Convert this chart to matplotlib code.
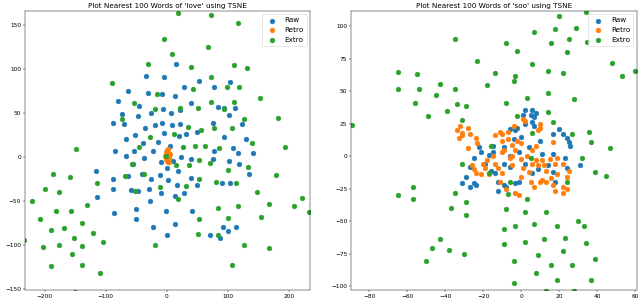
import matplotlib
matplotlib.use("Agg")
import matplotlib.pyplot as plt

# ---- 'love' panel ----
love_raw_x = [15, -34, -5, 52, 103, 77, -63, 28, -30, -8, 13, -80, 39, -45, -6, 21, 84, 93, 112,
              -26, 7, -74, 102, -47, -88, -70, -7, 76, 8, 22, 123, -20, -35, 50, -4, 31, 20, -52,
              93, -67, 129, -15, -39, 6, 108, -85, -22, -53, 77,
              -66, -38, 23, 40, 117, 141, 75, 102, 119, -10, 10, -55, -115, 1, 19, 134, -64, -41,
              -11, 39, -88, -25, 2, 17, 50, 90, 103, -88, -59, -47, -29, -9, 13, 28, -114, -27,
              -1, -50, 41, -87, -51, 14, -22, 92, 114, 100, 70, 1, 87]
love_raw_y = [106, 92, 91, 86, 85, 80, 75, 79, 73, 71, 69, 64, 61, 58, 55, 53, 57, 56, 56,
              50, 50, 49, 48, 47, 39, 37, 39, 39, 36, 37, 38, 36, 33, 28, 27, 26, 24, 25,
              23, 20, 21, 17, 16, 13, 10, 7, 7, 7, 7,
              1, -1, 0, -2, 5, 5, -2, -5, -8, -6, -4, -8, -16, -12, -16, -19, -22, -19,
              -20, -24, -25, -25, -26, -32, -32, -29, -30, -36, -38, -39, -36, -41, -44, -41, -45, -50,
              -61, -59, -61, -64, -71, -76, -79, -79, -80, -84, -89, -89, -92]

love_retro_x = [0, 1, 2, -1, 3, 1, 0, 2, -2, 4, 1, 3, -1, 2, 0, 5, -3, 1, 3, 0, 2, -1, 4, 1]
love_retro_y = [8, 6, 4, 3, 2, 1, 0, -1, 0, 0, -3, -4, -2, -6, 5, 3, 1, 7, -6, -4, 9, 6, -1, 2]

love_extro_x = [19, 72, 117, -4, 67, 9, -31, 110, 39, 131, -90, 72, 118, 98, 43, -16, 152, -53,
                110, 72, -19, 21, 51, 94, 182, -73, 126, 35, 77, 56, 107, -27, 12, 139, -149, -45,
                27, 46, 63, 85, 193,
                -57, -2, 15, 36, 52, 71, 133, -186, -158, -69, -37, -114, 100, 178, 114, 80, 52, 32,
                -11, -199, -177, -52, 148, -221, 18, -131, 167, 209, 221, 233, 117, 84, -182, -156,
                -208, 53, 154, 100, -139, -168, -189, -121, -152, 51, 84, -104, -233, -202, -176,
                -138, -19, 126, 168, -155, -189, -138, 107, -109, -150]
love_extro_y = [164, 161, 152, 134, 125, 117, 106, 105, 102, 101, 84, 91, 80, 79, 77, 71, 67, 61,
                62, 62, 55, 56, 56, 55, 44, 43, 43, 34, 33, 31, 33, 23, 26, 16, 9, 11,
                11, 13, 12, 10, 11,
                -8, 1, -9, -9, -3, -7, -11, -19, -23, -22, -19, -30, -15, -20, -30, -28, -25, -33,
                -34, -36, -40, -39, -40, -50, -48, -55, -53, -56, -47, -62, -56, -58, -61, -61,
                -70, -71, -68, -69, -75, -81, -83, -86, -92, -88, -89, -97, -94, -102, -100,
                -101, -100, -100, -103, -110, -124, -123, -123, -132, -153]

# ---- 'soo' panel ----
soo_raw_x = [2, 6, 8, 5, 1, 7, 6, 2, 7, -6, -2, -3, 20, 17, 22, 24, 25, 26, 10, 0, -4, 4, -22,
             -15, -9,
             -31, -29, -27, -25, -25, -24, -27, -21, -19, -17, -16, -14, -12, -9, -12, -8, -3, -9,
             -6, -6, -1, 2, 6, 9, 14, 17, 18, 24, 31, -1, 11, 17, 23, -15]
soo_raw_y = [36, 36, 33, 32, 32, 30, 26, 25, 23, 21, 22, 20, 21, 17, 17, 14, 11, 8, 12, 15, 13, 7, 7,
             8, 7,
             -21, -16, -8, -1, -21, -22, -24, 3, -6, 1, -11, -13, -20, -22, -27, -24, -21, -6,
             -8, 0, 3, -6, -13, -10, -7, -12, -20, -9, -7, -20, 2, 2, -1, 3]

soo_retro_x = [-34, -32, -28, -31, -27, -31, -33, -24, -28, -23, -14, -11, -10, -4, -7, -7, -10, 1, 2,
               10, 10, 9, -2, -5, 0, 8, 17, 6, -9, -3,
               -26, -25, -24, -20, -19, -21, -15, -12, -10, -11, -8, -3, -1, -6, -5, 0, 1, 3, 4,
               6, 8, 9, 11, 12, 13, 15, 18, 19, 16, 11, 13, 5, 0, 19, 22, 24, 25, 22, 24, 18, 22,
               17, 10, 7, -5, -10, -14, -18, -17]
soo_retro_y = [20, 23, 22, 18, 17, 16, 14, 14, 6, 10, 16, 19, 17, 23, 19, 13, 12, 29, 27,
               25, 22, 20, 12, 9, 10, 8, 11, 5, 5, 5,
               -7, -10, -13, -6, -9, -14, 0, -9, -13, -20, -25, -28, -30, -1, -7, -2, -9, 0, -12,
               -6, -3, -7, -3, -7, -11, -2, -6, -14, -17, -18, -20, -20, -16, -1, -6, -16, -11, -24,
               -25, -27, -28, -22, -20, -24, 0, 3, -6, -3, -14]

soo_extro_x = [20, 34, 35, 18, 29, 7, -35, 16, 25, -8, -2, 24, -23, 6, 48, -65, 14, 22, 60, -55,
               -14, -3, 53, -65, -54, -43, -35, -18, -4, 14, -45, 28, -56, -34, -29, -8, 3, -39,
               -49, 14, -2, -31, -89, 17, 36, 6, 27, 37, -16, 47,
               -65, -57, -57, -35, -31, -37, -29, -29, -17, -6, -7, 5, 3, -8, 2, 13, -9, -3, 7,
               19, 30, 33, -43, -47, -38, -30, -50, -9, 2, 12, 23, 34, 22, 9, 39, -4, 16, 27, 8,
               19, 37, -4, 28, 13, 32, 39, 45, 24]
soo_extro_y = [108, 111, 88, 98, 99, 96, 90, 87, 90, 87, 81, 80, 73, 71, 72, 65, 66, 64, 66, 63,
               64, 62, 62, 52, 52, 56, 52, 55, 58, 49, 47, 44, 41, 40, 39, 41, 45, 35,
               31, 34, 31, 28, 24, 26, 19, 18, 17, 11, 8, 6,
               -30, -24, -33, -28, -6, -40, -35, -45, -13, -20, -29, -1, -33, -41, -43, -43, -56,
               -54, -52, -54, -50, -54, -64, -71, -72, -75, -81, -68, -66, -64, -63, -67, -73, -76,
               -79, -81, -84, -84, -90, -95, -95, -98, -104, -104, -1, -12, -15, -20]

LABELS = ["Raw", "Retro", "Extro"]
COLORS = ["#1f77b4", "#ff7f0e", "#2ca02c"]


def scatter_panel(ax, title, series, xlim, ylim):
    for (xs, ys), label, color in zip(series, LABELS, COLORS):
        ax.scatter(xs, ys, s=72, color=color, label=label)
    ax.set_xlim(*xlim)
    ax.set_ylim(*ylim)
    ax.set_title(title, fontsize=13, pad=5)
    ax.tick_params(labelsize=10.5)
    ax.legend(loc="upper right", fontsize=13)


fig, (ax1, ax2) = plt.subplots(1, 2, figsize=(16, 7.55), dpi=40)
fig.subplots_adjust(left=0.039, right=0.995, bottom=0.04, top=0.964, wspace=0.1436)

scatter_panel(ax1, "Plot Nearest 100 Words of 'love' using TSNE",
              [(love_raw_x, love_raw_y), (love_retro_x, love_retro_y), (love_extro_x, love_extro_y)],
              (-232, 235), (-151, 166))
scatter_panel(ax2, "Plot Nearest 100 Words of 'soo' using TSNE",
              [(soo_raw_x, soo_raw_y), (soo_retro_x, soo_retro_y), (soo_extro_x, soo_extro_y)],
              (-89.5, 61), (-103, 112))

fig.savefig("out.png", dpi=40)
